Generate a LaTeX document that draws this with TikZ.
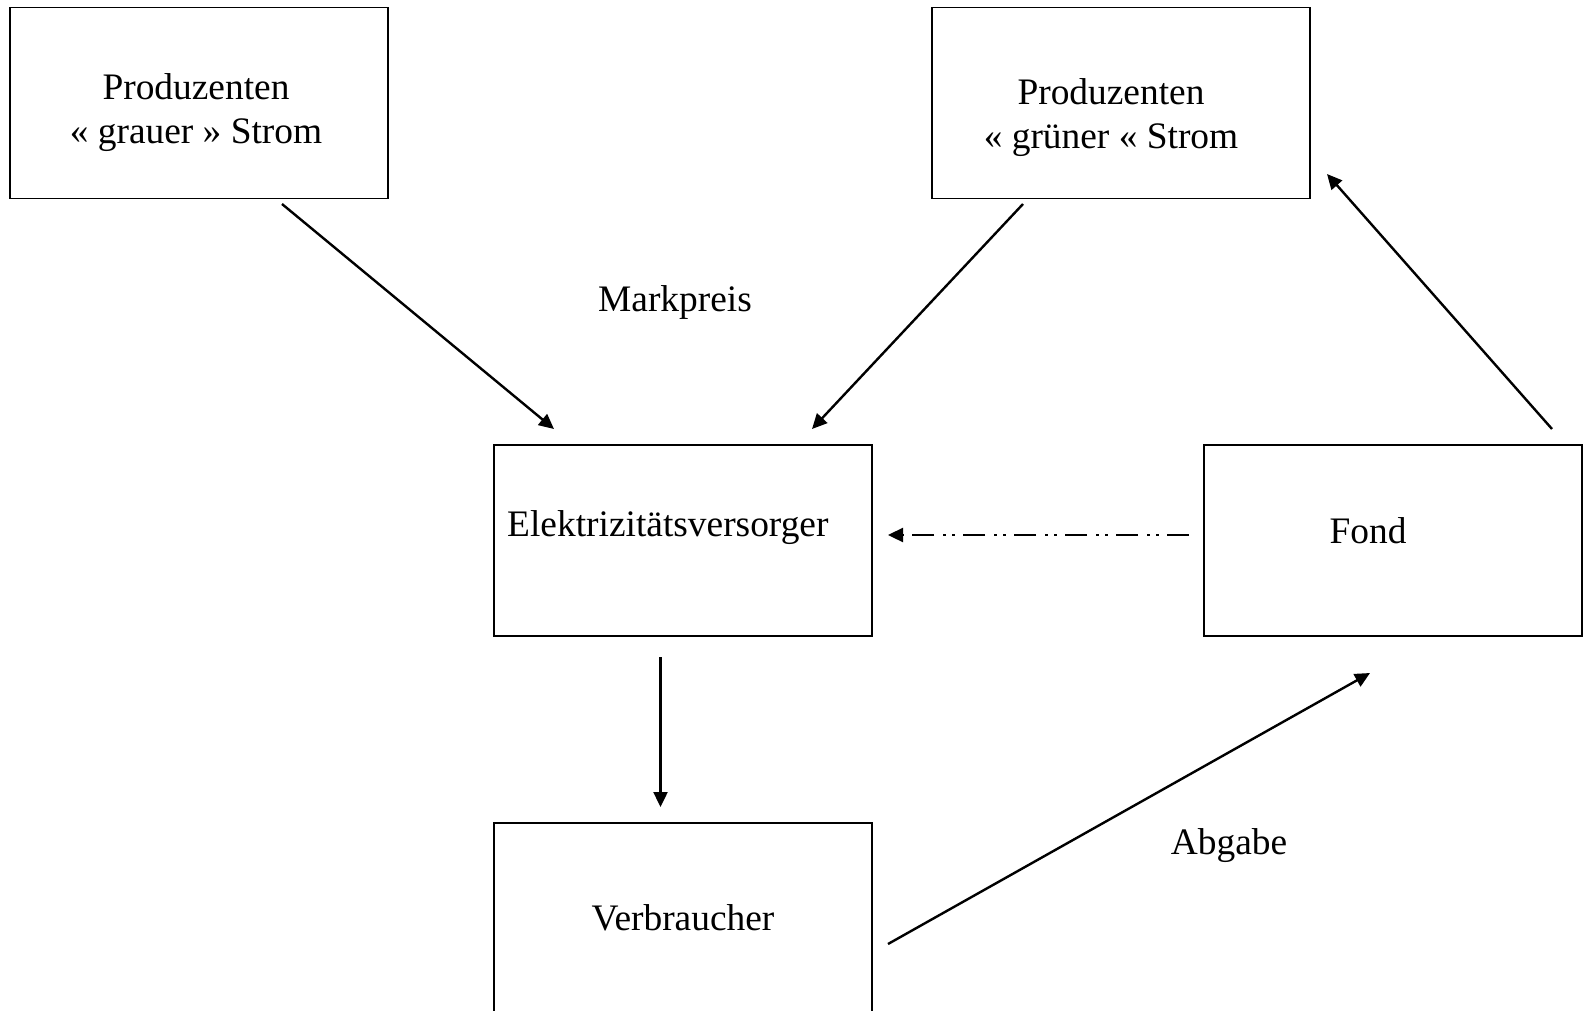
\documentclass[tikz,border=0pt]{standalone}
\usepackage{fontspec}
\setmainfont{Liberation Serif}
\usetikzlibrary{arrows.meta}
\begin{document}
\begin{tikzpicture}[x=1pt,y=-1pt,
  box/.style={draw,line width=1.8pt,minimum width=378pt,minimum height=191pt,inner sep=0pt},
  lbl/.style={anchor=base,inner sep=0pt,font=\fontsize{37.4}{44}\selectfont},
  conn/.style={line width=2.4pt,-{Triangle[length=15pt,width=14pt]}},
  dashdotdot/.style={dash pattern=on 22pt off 8.5pt on 3pt off 6pt on 3pt off 8.5pt}]
\useasboundingbox (0,0) rectangle (1584,1011);
\clip (0,0) rectangle (1584,1011);
\fill[white] (0,0) rectangle (1584,1011);
% boxes
\node[box] (grau) at (199,103) {};
\node[box] (gruen) at (1121,103) {};
\node[box] (ev) at (683,540.5) {};
\node[box] (fond) at (1393,540.5) {};
\node[box] (verb) at (683,918.5) {};
% texts
\node[lbl] (t1a) at (196,100) {Produzenten};
\node[lbl] (t1b) at (196,144) {« grauer » Strom};
\node[lbl] (t2a) at (1111,105) {Produzenten};
\node[lbl] (t2b) at (1111,149) {« grüner « Strom};
\node[lbl,anchor=base west] (tev) at (507,536.5) {Elektrizitätsversorger};
\node[lbl] (tfond) at (1368,543) {Fond};
\node[lbl] (tverb) at (683,930.5) {Verbraucher};
\node[lbl] (tmark) at (675,311) {Markpreis};
\node[lbl] (tabg) at (1229,854) {Abgabe};
% connector end points
\coordinate (a1s) at (282,204);
\coordinate (a1e) at (554,429);
\coordinate (a2s) at (1023,204);
\coordinate (a2e) at (812,429);
\coordinate (a3s) at (1552,429);
\coordinate (a3e) at (1327,174);
\coordinate (a4s) at (1189,535);
\coordinate (a4e) at (888,535);
\coordinate (a5s) at (660.5,657);
\coordinate (a5e) at (660.5,807);
\coordinate (a6s) at (888,944);
\coordinate (a6e) at (1370,673);
% connectors
\draw[conn] (a1s) -- (a1e);
\draw[conn] (a2s) -- (a2e);
\draw[conn] (a3s) -- (a3e);
\draw[conn,dashdotdot] (a4s) -- (a4e);
\draw[conn] (a5s) -- (a5e);
\draw[conn] (a6s) -- (a6e);
\end{tikzpicture}
\end{document}
